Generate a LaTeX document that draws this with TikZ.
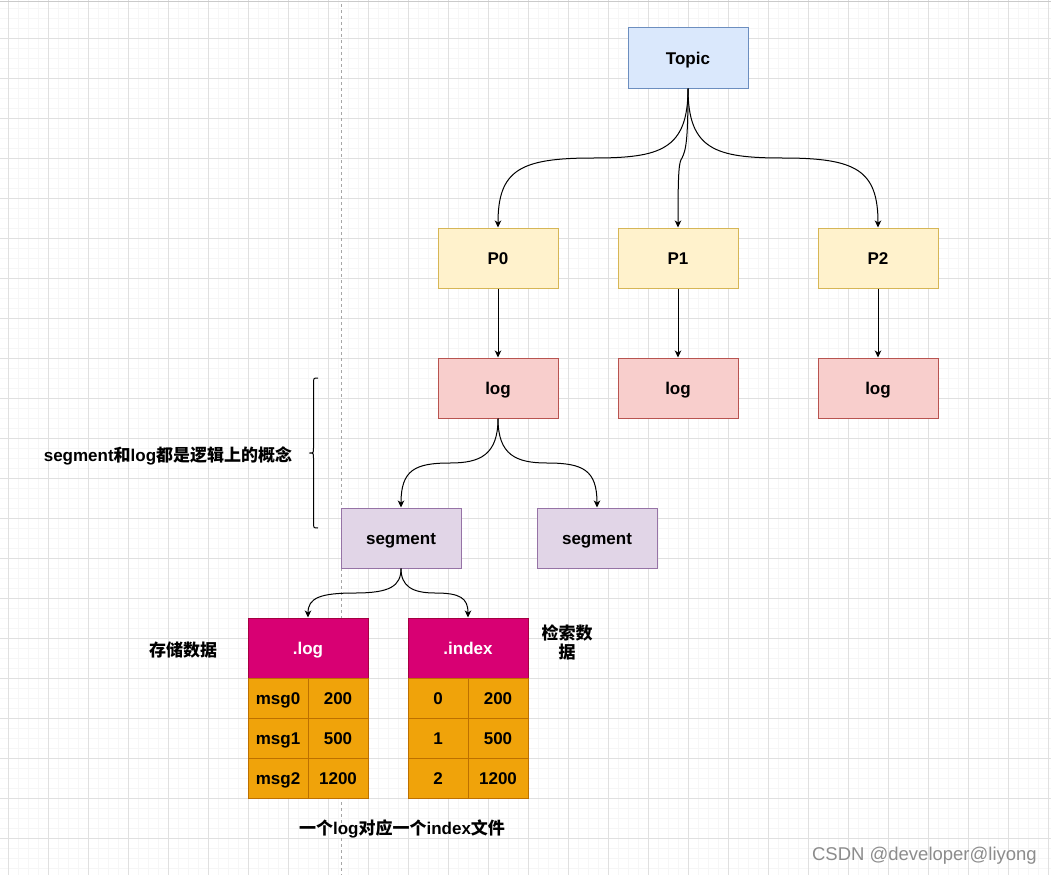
\documentclass[tikz,border=0pt]{standalone}
\usepackage{fontspec}
\setmainfont{Liberation Sans}
\newfontfamily\cjk{Noto Sans CJK SC}
\usetikzlibrary{arrows.meta}
\definecolor{topicfill}{HTML}{DAE8FC}\definecolor{topicdraw}{HTML}{6C8EBF}
\definecolor{pfill}{HTML}{FFF2CC}\definecolor{pdraw}{HTML}{D6B656}
\definecolor{logfill}{HTML}{F8CECC}\definecolor{logdraw}{HTML}{B85450}
\definecolor{segfill}{HTML}{E1D5E7}\definecolor{segdraw}{HTML}{9673A6}
\definecolor{hdrfill}{HTML}{D80073}\definecolor{hdrdraw}{HTML}{A50040}
\definecolor{cellfill}{HTML}{F0A30A}\definecolor{celldraw}{HTML}{BD7000}
\definecolor{gridminor}{HTML}{F6F6F6}\definecolor{gridmajor}{HTML}{E0E0E0}
\definecolor{wm}{HTML}{8C8C8C}
\tikzset{
  txt/.style={font=\bfseries\fontsize{17}{20}\selectfont, inner sep=0pt, text height=12pt, text depth=0pt},
  box/.style={txt, draw, line width=1pt, minimum width=120pt, minimum height=60pt},
  topicbox/.style={box, fill=topicfill, draw=topicdraw},
  pbox/.style={box, fill=pfill, draw=pdraw},
  logbox/.style={box, fill=logfill, draw=logdraw},
  segbox/.style={box, fill=segfill, draw=segdraw},
  hdrbox/.style={box, fill=hdrfill, draw=hdrdraw, text=white},
  cellbox/.style={txt, draw=celldraw, fill=cellfill, line width=1pt, minimum width=60pt, minimum height=40pt},
  conn/.style={line width=1pt, -{Stealth[length=7pt,width=6.5pt,inset=2pt]}},
}
\begin{document}
\begin{tikzpicture}[x=1pt,y=-1pt]
\useasboundingbox (0,0) rectangle (1051,875);
\fill[white] (0,0) rectangle (1051,875);
% grid
\foreach \i in {0,...,104} {\draw[gridminor, line width=0.7pt] (8+10*\i,0) -- (8+10*\i,875);}
\foreach \i in {0,...,87} {\draw[gridminor, line width=0.7pt] (0,8+10*\i) -- (1051,8+10*\i);}
\foreach \i in {0,...,26} {\draw[gridmajor, line width=0.8pt] (8+40*\i,0) -- (8+40*\i,875);}
\foreach \i in {0,...,21} {\draw[gridmajor, line width=0.8pt] (0,38+40*\i) -- (1051,38+40*\i);}
\draw[gridmajor!90!black, line width=0.8pt] (0,1) -- (1051,1);
\draw[gray!70, dash pattern=on 3pt off 3pt, line width=0.8pt] (341.5,4) -- (341.5,875);

% nodes
\node[topicbox] (topic) at (688,58) {Topic};
\node[pbox] (p0) at (498,258) {P0};
\node[pbox] (p1) at (678,258) {P1};
\node[pbox] (p2) at (878,258) {P2};
\node[logbox] (log0) at (498,388) {log};
\node[logbox] (log1) at (678,388) {log};
\node[logbox] (log2) at (878,388) {log};
\node[segbox] (seg0) at (401,538) {segment};
\node[segbox] (seg1) at (597,538) {segment};
\node[hdrbox] (hlog) at (308,648) {.log};
\node[hdrbox] (hidx) at (468,648) {.index};
\node[cellbox] (a1) at (278,698) {msg0};
\node[cellbox] (a2) at (338,698) {200};
\node[cellbox] (b1) at (278,738) {msg1};
\node[cellbox] (b2) at (338,738) {500};
\node[cellbox] (c1) at (278,778) {msg2};
\node[cellbox] (c2) at (338,778) {1200};
\node[cellbox] (d1) at (438,698) {0};
\node[cellbox] (d2) at (498,698) {200};
\node[cellbox] (e1) at (438,738) {1};
\node[cellbox] (e2) at (498,738) {500};
\node[cellbox] (f1) at (438,778) {2};
\node[cellbox] (f2) at (498,778) {1200};

% labels
\node[txt] (lstore) at (183,650) {\cjk 存储数据};
\node[txt, align=center, text height=, text depth=] (lsearch) at (567,642) {{\cjk 检索数}\\[-1pt]{\cjk 据}};
\node[txt] (lone) at (402,828) {{\cjk 一个}log{\cjk 对应一个}index{\cjk 文件}};
\node[txt] (lseg) at (168,455) {segment{\cjk 和}log{\cjk 都是逻辑上的概念}};
\node[font=\fontsize{18.5}{22}\selectfont, text=wm, inner sep=0pt, anchor=east] (wmk) at (1037,856) {CSDN @developer@liyong};

% brace
\draw[line width=1pt] (318,378) .. controls (313.5,378) and (313.5,378) .. (313.5,384) -- (313.5,448)
  .. controls (313.5,453) and (313.5,453) .. (309.5,453)
  .. controls (313.5,453) and (313.5,453) .. (313.5,458) -- (313.5,522)
  .. controls (313.5,528) and (313.5,528) .. (318,528);

% connectors
\draw[conn] (topic.south) .. controls (688,150) and (660,158) .. (593,158)
  .. controls (520,158) and (498,170) .. (p0.north);
\draw[conn] (topic.south) .. controls (688,150) and (716,158) .. (783,158)
  .. controls (856,158) and (878,170) .. (p2.north);
\draw[conn] (topic.south) .. controls (688,140) and (686,150) .. (682,158)
  .. controls (679,162) and (678,170) .. (p1.north);
\draw[conn] (p0.south) -- (log0.north);
\draw[conn] (p1.south) -- (log1.north);
\draw[conn] (p2.south) -- (log2.north);
\draw[conn] (log0.south) .. controls (498,455) and (480,463) .. (450,463)
  .. controls (415,463) and (401,470) .. (seg0.north);
\draw[conn] (log0.south) .. controls (498,455) and (516,463) .. (547,463)
  .. controls (583,463) and (597,470) .. (seg1.north);
\draw[conn] (seg0.south) .. controls (401,586) and (390,593) .. (355,593)
  .. controls (320,593) and (308,598) .. (hlog.north);
\draw[conn] (seg0.south) .. controls (401,586) and (412,593) .. (435,593)
  .. controls (460,593) and (468,598) .. (hidx.north);
\end{tikzpicture}
\end{document}
